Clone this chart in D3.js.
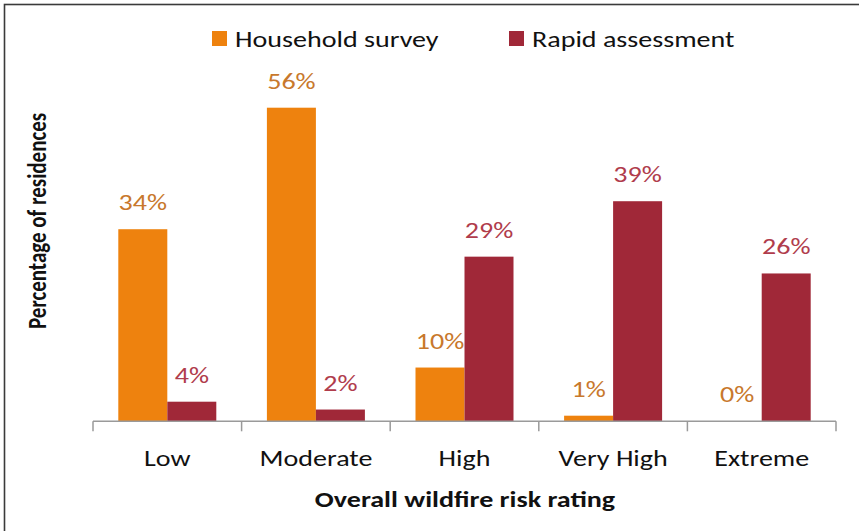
<!DOCTYPE html>
<html>
<head>
<meta charset="utf-8">
<script src="https://cdn.jsdelivr.net/npm/d3@7"></script>
<style>
  html, body { margin: 0; padding: 0; background: #fff; }
  svg { display: block; font-family: Carlito, Calibri, Lato, sans-serif; }
</style>
</head>
<body>
<svg id="chart" width="859" height="531"></svg>
<script>
const categories = ["Low", "Moderate", "High", "Very High", "Extreme"];
const seriesNames = ["Household survey", "Rapid assessment"];
const householdSurvey = [34.3, 56, 9.6, 1, 0];
const rapidAssessment = [3.5, 2.1, 29.4, 39.3, 26.4];
const seriesColors = ["#EE820E", "#A02838"];
const labelColors = ["#C8782C", "#B03C4C"];
const xTitle = "Overall wildfire risk rating";
const yTitle = "Percentage of residences";

const FS = 23;      // font size
const SX = 1.22;    // horizontal glyph stretch (reference is stretched horizontally)

const svg = d3.select("#chart");

// outer chart border (cropped at right & bottom)
svg.append("rect")
  .attr("x", 4.5).attr("y", 4.5).attr("width", 900).attr("height", 600)
  .attr("fill", "none").attr("stroke", "#3a3a3a").attr("stroke-width", 1.6);

const baseY = 421.3;
const y = d3.scaleLinear().domain([0, 60]).range([baseY, baseY - 336]);
const x = d3.scaleBand().domain(categories).range([93, 836]).paddingInner(0).paddingOuter(0);
const x1 = d3.scaleBand().domain(seriesNames).range([25.3, x.bandwidth() - 25.3]).paddingInner(0).paddingOuter(0);

const data = categories.map((c, i) => ({
  cat: c,
  vals: [householdSurvey[i], rapidAssessment[i]]
}));

const groups = svg.append("g").selectAll("g").data(data).join("g")
  .attr("transform", d => `translate(${x(d.cat)},0)`);

groups.selectAll("rect").data(d => d.vals.map((v, j) => ({ v, j }))).join("rect")
  .attr("x", d => x1(seriesNames[d.j]))
  .attr("width", x1.bandwidth())
  .attr("y", d => y(d.v))
  .attr("height", d => baseY - y(d.v))
  .attr("fill", d => seriesColors[d.j]);

groups.selectAll("text").data(d => d.vals.map((v, j) => ({ v, j }))).join("text")
  .attr("transform", d => `translate(${x1(seriesNames[d.j]) + x1.bandwidth() / 2},${y(d.v) - 19}) scale(${SX},1)`)
  .attr("text-anchor", "middle")
  .attr("font-size", FS)
  .attr("fill", d => labelColors[d.j])
  .text(d => Math.round(d.v) + "%");

// x axis
const axis = svg.append("g").attr("transform", `translate(0,${baseY})`)
  .call(d3.axisBottom(x).tickSize(0).tickPadding(28.5));
axis.select(".domain").remove();
axis.selectAll("text")
  .attr("font-size", FS).attr("fill", "#111")
  .attr("font-family", "Carlito, Calibri, Lato, sans-serif")
  .attr("transform", `scale(${SX},1)`);

svg.append("line")
  .attr("x1", x.range()[0]).attr("x2", x.range()[1])
  .attr("y1", baseY).attr("y2", baseY)
  .attr("stroke", "#9a9a9a").attr("stroke-width", 1.5);
const bounds = categories.map(c => x(c)).concat([x.range()[1]]);
svg.append("g").selectAll("line").data(bounds).join("line")
  .attr("x1", d => d).attr("x2", d => d)
  .attr("y1", baseY).attr("y2", baseY + 10)
  .attr("stroke", "#9a9a9a").attr("stroke-width", 1.5);

// axis titles
svg.append("text")
  .attr("transform", `translate(465,507) scale(${SX},1)`)
  .attr("text-anchor", "middle")
  .attr("font-size", FS).attr("font-weight", "bold").attr("fill", "#111")
  .text(xTitle);

svg.append("text")
  .attr("transform", `translate(46,221) rotate(-90) scale(1,${SX})`)
  .attr("text-anchor", "middle")
  .attr("font-size", 21).attr("font-weight", "bold").attr("fill", "#111")
  .text(yTitle);

// legend
const legendX = [212, 509];
const legend = svg.append("g").selectAll("g").data(seriesNames).join("g")
  .attr("transform", (d, i) => `translate(${legendX[i]},31)`);
legend.append("rect").attr("width", 15).attr("height", 15)
  .attr("fill", (d, i) => seriesColors[i]);
legend.append("text")
  .attr("transform", `translate(23,15.7) scale(${SX},1)`)
  .attr("font-size", FS).attr("fill", "#111")
  .text(d => d);
</script>
</body>
</html>
